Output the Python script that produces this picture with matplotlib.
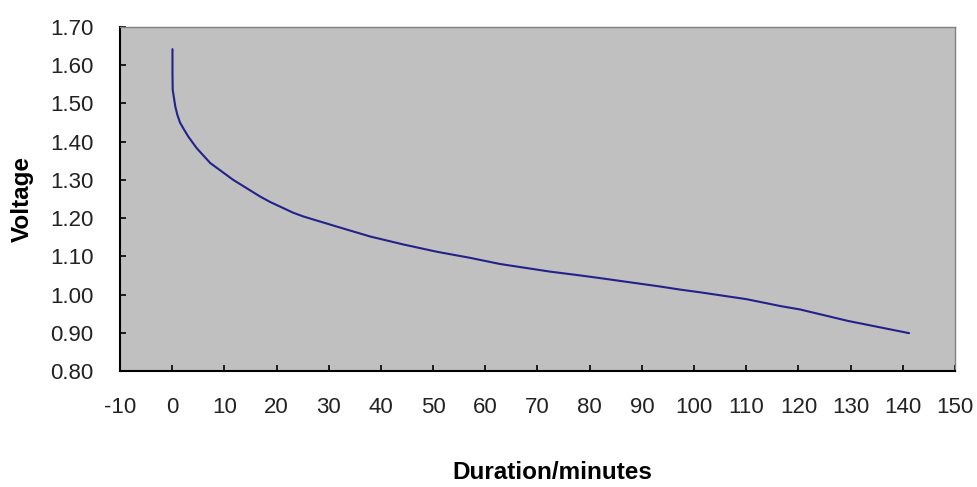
import matplotlib
matplotlib.use('Agg')
import matplotlib.pyplot as plt
import numpy as np

# discharge curve
duration = [0.06, 0.06, 0.1, 0.6, 1.0, 1.5, 2.3, 3.1, 4.7, 7.3, 11.7, 16.9,
            18.8, 23.2, 25.2, 31.5, 37.9, 44.3, 50.7, 57.1, 62.8, 72.4, 78.2,
            82.0, 93.5, 97.3, 101.1, 110.0, 116.5, 120.3, 129.5, 141.2]
voltage = [1.642, 1.579, 1.536, 1.492, 1.470, 1.450, 1.431, 1.413, 1.383,
           1.344, 1.300, 1.256, 1.242, 1.214, 1.204, 1.178, 1.152, 1.131,
           1.112, 1.096, 1.080, 1.060, 1.050, 1.043, 1.021, 1.013, 1.006,
           0.988, 0.970, 0.961, 0.931, 0.899]

x_ticks = np.arange(-10, 151, 10)
y_ticks = np.round(np.arange(0.80, 1.701, 0.10), 2)

plt.rcParams['font.family'] = ['Liberation Sans', 'DejaVu Sans']

fig = plt.figure(figsize=(9.77, 4.87), dpi=100)
ax = fig.add_axes([0.1228, 0.2382, 0.8547, 0.7064])
ax.set_facecolor('#c0c0c0')

ax.plot(duration, voltage, color='#22228a', linewidth=1.5,
        solid_joinstyle='round', solid_capstyle='round')

ax.set_xlim(-10, 150)
ax.set_ylim(0.80, 1.70)
ax.set_xticks(x_ticks)
ax.set_yticks(y_ticks)
ax.set_xticklabels([str(t) for t in x_ticks])
ax.set_yticklabels([f'{t:.2f}' for t in y_ticks])
ax.tick_params(direction='in', length=4, width=1.2, labelsize=16,
               pad=19, colors='black', labelcolor='#222222')

for side in ['top', 'right']:
    ax.spines[side].set_color('#808080')
    ax.spines[side].set_linewidth(1.0)
for side in ['left', 'bottom']:
    ax.spines[side].set_color('black')
    ax.spines[side].set_linewidth(1.5)

ax.set_ylabel('Voltage', fontsize=17.5, fontweight='bold', labelpad=12)
fig.text(0.565, 0.03, 'Duration/minutes', fontsize=17.5, fontweight='bold',
         ha='center', va='center')

fig.savefig('out.png', dpi=100)
